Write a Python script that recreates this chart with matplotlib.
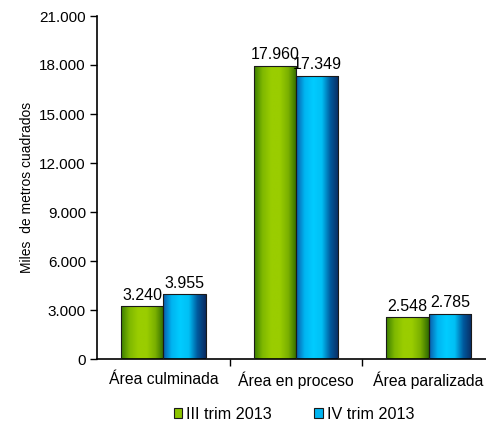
import numpy as np
import matplotlib
matplotlib.use("Agg")
import matplotlib.pyplot as plt
from matplotlib.colors import LinearSegmentedColormap
from matplotlib.patches import Rectangle, Patch
from matplotlib.ticker import FixedLocator, FuncFormatter

plt.rcParams["font.family"] = ["Liberation Sans", "DejaVu Sans"]

categories = ["Área culminada", "Área en proceso", "Área paralizada"]
series_names = ["III trim 2013", "IV trim 2013"]
iii_trim = [3240, 17960, 2548]
iv_trim = [3955, 17349, 2785]
y_ticks = [0, 3000, 6000, 9000, 12000, 15000, 18000, 21000]


def miles(v):
    return f"{int(round(v)):,}".replace(",", ".")


green_cmap = LinearSegmentedColormap.from_list(
    "green_bar", ["#3a7d00", "#7fb800", "#9acd00", "#9acd00", "#7ab000", "#2f6a00"])
blue_cmap = LinearSegmentedColormap.from_list(
    "blue_bar", ["#0a5aa8", "#00b4f0", "#00ccff", "#00c0f5", "#005a9e", "#0a2a60"])

fig = plt.figure(figsize=(4.86, 4.23), dpi=100)
ax = fig.add_axes([97 / 486, 64 / 423, 398 / 486, 343 / 423])

x = np.arange(len(categories))
width = 0.32
gradient = np.linspace(0, 1, 256).reshape(1, -1)

for vals, cmap, off, name in [(iii_trim, green_cmap, -width / 2, series_names[0]),
                              (iv_trim, blue_cmap, width / 2, series_names[1])]:
    bars = ax.bar(x + off, vals, width, color="none", edgecolor="#1a1a1a",
                  linewidth=0.8, zorder=3, label=name)
    for rect, v in zip(bars, vals):
        bx, bw, bh = rect.get_x(), rect.get_width(), rect.get_height()
        im = ax.imshow(gradient, cmap=cmap, aspect="auto",
                       extent=(bx, bx + bw, 0, bh), zorder=2, interpolation="bilinear")
        im.set_clip_path(Rectangle((bx, 0), bw, bh, transform=ax.transData))
        ax.text(bx + bw / 2, bh + 200, miles(v), ha="center", va="bottom",
                fontsize=11.5, color="#000000", zorder=4)

ax.set_xlim(-0.5, 2.5)
ax.set_ylim(0, 21000)
ax.yaxis.set_major_locator(FixedLocator(y_ticks))
ax.yaxis.set_major_formatter(FuncFormatter(lambda v, p: miles(v)))
ax.set_xticks(x)
ax.set_xticklabels(categories)
ax.set_xticks([0.5, 1.5], minor=True)
ax.tick_params(axis="x", which="major", length=0, pad=9, labelsize=11.3)
ax.tick_params(axis="x", which="minor", length=5, width=1, direction="out")
ax.tick_params(axis="y", length=5, width=1, direction="out", labelsize=11, pad=3)

for s in ["top", "right"]:
    ax.spines[s].set_visible(False)
ax.spines["left"].set_linewidth(1.2)
ax.spines["bottom"].set_linewidth(1.2)

ax.set_ylabel("Miles  de metros cuadrados", fontsize=10, labelpad=4)

handles = [Patch(facecolor="#8cc400", edgecolor="#1a1a1a", linewidth=0.8),
           Patch(facecolor="#00b4f0", edgecolor="#1a1a1a", linewidth=0.8)]
fig.legend(handles, series_names, loc="center", bbox_to_anchor=(294 / 486, 9 / 423),
           ncol=2, frameon=False, fontsize=11.6, handlelength=0.55, handleheight=0.55,
           handletextpad=0.25, columnspacing=2.6)

fig.savefig("out.png", dpi=100)
